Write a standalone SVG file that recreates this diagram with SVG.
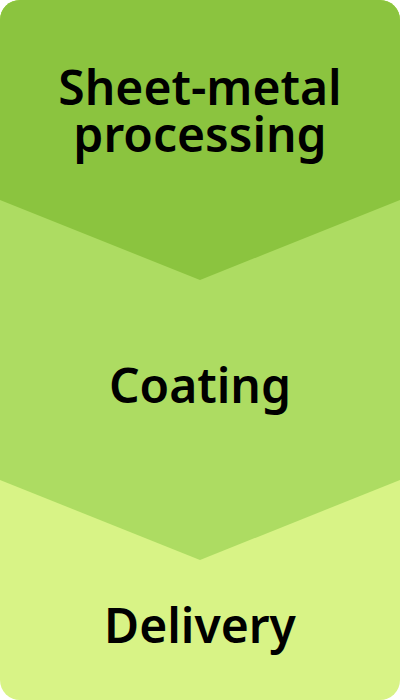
<svg xmlns="http://www.w3.org/2000/svg" width="400" height="700" viewBox="0 0 400 700">
<style>
.t{font-family:"Noto Sans","DejaVu Sans",sans-serif;font-weight:600;font-size:48px;fill:#000;text-anchor:middle}
</style>
<defs><clipPath id="c"><rect x="0" y="0" width="400" height="700" rx="20" ry="20"/></clipPath></defs>
<g clip-path="url(#c)">
<g id="delivery"><rect x="0" y="0" width="400" height="700" fill="#d8f386"/><text class="t" x="200" y="643">Delivery</text></g>
<g id="coating"><path d="M0 0H400V480L200 560L0 480Z" fill="#addc62"/><text class="t" x="200" y="403">Coating</text></g>
<g id="sheet"><path d="M0 0H400V200L200 280L0 200Z" fill="#8bc43f"/><text class="t" x="200" y="105">Sheet-metal<tspan x="200" dy="47">processing</tspan></text></g>
</g>
<g id="connectors"/>
</svg>
